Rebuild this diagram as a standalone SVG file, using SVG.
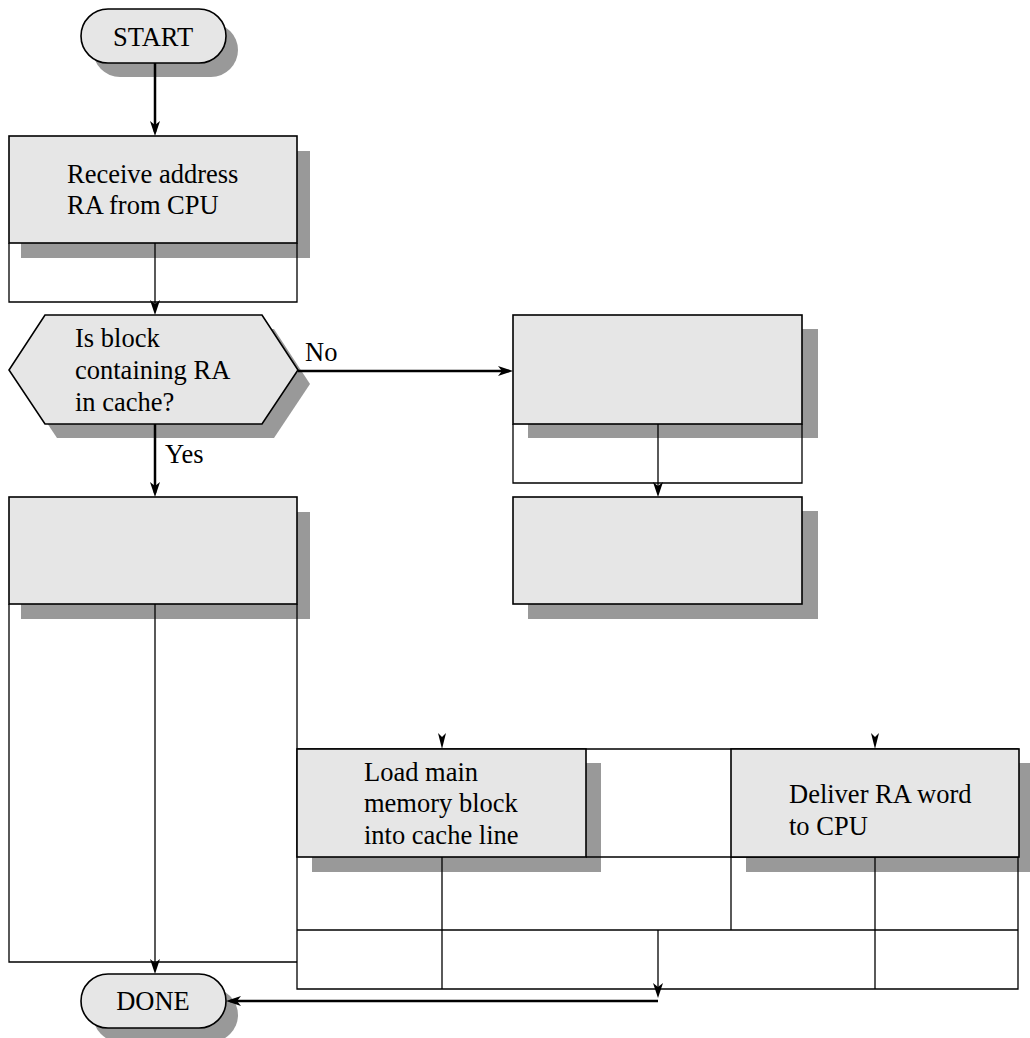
<svg xmlns="http://www.w3.org/2000/svg" width="1030" height="1038" viewBox="0 0 1030 1038">
<style>
.sh{fill:#999999;stroke:none}
.nd{fill:#e6e6e6;stroke:#000;stroke-width:1.6}
.ln{fill:none;stroke:#000;stroke-width:1.3}
.tk{fill:none;stroke:#000;stroke-width:2.5}
.tx{font-family:"Liberation Serif","Times New Roman",serif;font-size:26.5px;fill:#000}
</style>
<defs>
<marker id="ah" viewBox="0 0 15 10" markerWidth="15" markerHeight="10" refX="11" refY="5" orient="auto" markerUnits="userSpaceOnUse">
<path d="M0,0 L15,5 L0,10 L4,5 z" fill="#000"/>
</marker>
</defs>
<rect width="1030" height="1038" fill="#fff"/>
<g id="shadows">
<rect class="sh" x="93" y="23" width="145" height="54" rx="27"/>
<rect class="sh" x="21" y="151" width="289" height="107"/>
<polygon class="sh" points="57,329 274,329 310,384 274,438 57,438 21,384"/>
<rect class="sh" x="21" y="512" width="289" height="107"/>
<rect class="sh" x="528" y="329" width="290" height="109"/>
<rect class="sh" x="528" y="511" width="290" height="108"/>
<rect class="sh" x="312" y="763" width="289" height="109"/>
<rect class="sh" x="746" y="763" width="289" height="109"/>
<rect class="sh" x="93" y="988" width="145" height="54" rx="27"/>
</g>
<g id="connectors">
<path class="ln" d="M9,243 V302 H297 V243"/>
<path class="ln" d="M513,424 V483 H802 V424"/>
<path class="ln" d="M9,604 V962 H297"/>
<path class="ln" d="M297,604 V989 H1018 V749 H297"/>
<path class="ln" d="M586,857 H1018"/>
<path class="ln" d="M297,930 H1018"/>
<path class="ln" d="M442,857 V989"/>
<path class="ln" d="M731,857 V930"/>
<path class="ln" d="M875,857 V989"/>
<line class="tk" x1="155" y1="63" x2="155" y2="132" marker-end="url(#ah)"/>
<line class="ln" x1="155" y1="243" x2="155" y2="311" marker-end="url(#ah)"/>
<line class="tk" x1="298" y1="371" x2="509" y2="371" marker-end="url(#ah)"/>
<line class="tk" x1="155" y1="424" x2="155" y2="493" marker-end="url(#ah)"/>
<line class="ln" x1="658" y1="424" x2="658" y2="493" marker-end="url(#ah)"/>
<line class="ln" x1="155" y1="604" x2="155" y2="970" marker-end="url(#ah)"/>
<line class="ln" x1="658" y1="930" x2="658" y2="994" marker-end="url(#ah)"/>
<line class="tk" x1="658" y1="1001" x2="230" y2="1001" marker-end="url(#ah)"/>
<path d="M438,733 L442,749 L446,733 L442,737 z" fill="#000"/>
<path d="M871,733 L875,749 L879,733 L875,737 z" fill="#000"/>
</g>
<g id="start">
<rect class="nd" x="81" y="9" width="145" height="54" rx="27"/>
<text class="tx" x="153" y="46" text-anchor="middle">START</text>
</g>
<g id="receive">
<rect class="nd" x="9" y="136" width="288" height="107"/>
<text class="tx" x="67" y="183">Receive address</text>
<text class="tx" x="67" y="214">RA from CPU</text>
</g>
<g id="decision">
<polygon class="nd" points="45,315 262,315 298,370 262,424 45,424 9,370"/>
<text class="tx" x="75" y="347">Is block</text>
<text class="tx" x="75" y="379">containing RA</text>
<text class="tx" x="75" y="411">in cache?</text>
</g>
<text class="tx" x="305" y="361">No</text>
<text class="tx" x="165" y="463">Yes</text>
<g id="hit-box">
<rect class="nd" x="9" y="497" width="288" height="107"/>
</g>
<g id="miss-box1">
<rect class="nd" x="513" y="315" width="289" height="109"/>
</g>
<g id="miss-box2">
<rect class="nd" x="513" y="497" width="289" height="107"/>
</g>
<g id="load">
<rect class="nd" x="297" y="749" width="289" height="108"/>
<text class="tx" x="364" y="781">Load main</text>
<text class="tx" x="364" y="812">memory block</text>
<text class="tx" x="364" y="844">into cache line</text>
</g>
<g id="deliver">
<rect class="nd" x="731" y="749" width="288" height="108"/>
<text class="tx" x="789" y="803">Deliver RA word</text>
<text class="tx" x="789" y="835">to CPU</text>
</g>
<g id="done">
<rect class="nd" x="81" y="974" width="145" height="54" rx="27"/>
<text class="tx" x="153" y="1010" text-anchor="middle">DONE</text>
</g>
</svg>
